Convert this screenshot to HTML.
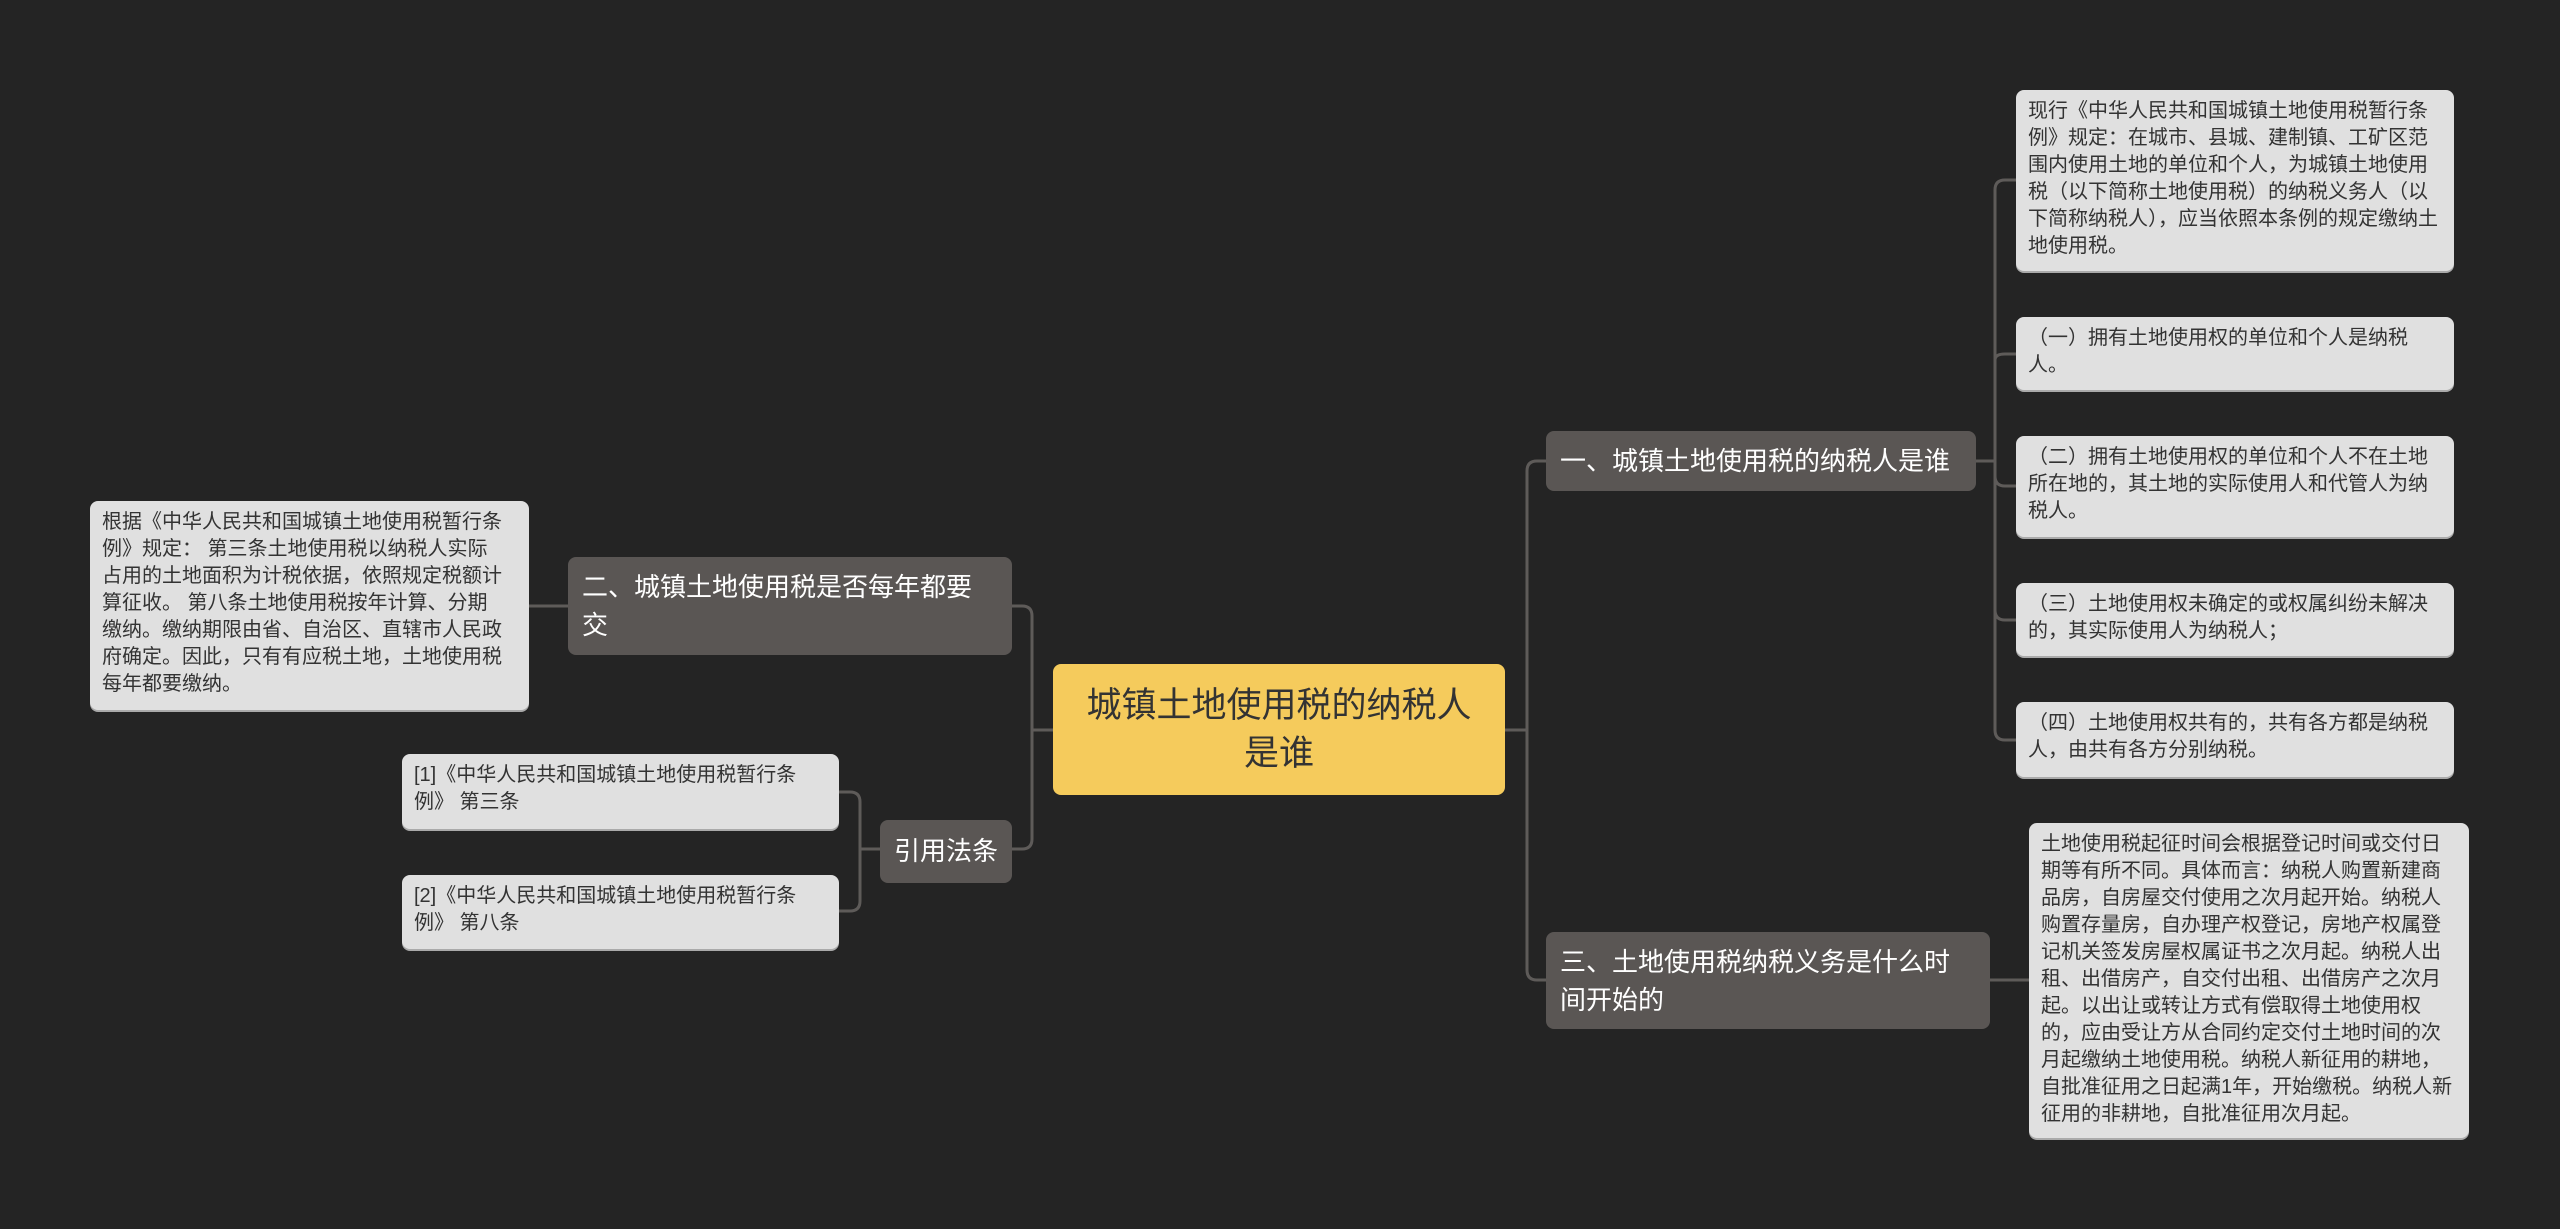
<!DOCTYPE html>
<html><head><meta charset="utf-8"><style>
html,body{margin:0;padding:0;background:#242424;}
body{width:2560px;height:1229px;position:relative;overflow:hidden;font-family:"Liberation Sans","Noto Sans CJK SC",sans-serif;}
.n{position:absolute;box-sizing:border-box;border-radius:8px;}
.leaf{background:#e0e0e0;color:#333;font-size:20px;line-height:27px;padding:8px 12px;box-shadow:0 2px 0 #aaa;}
.br{background:#5a5654;color:#fff;font-size:26px;line-height:38px;padding:8px 14px;}
.root{background:#f5cb5c;color:#333;font-size:35px;line-height:48px;text-align:center;display:flex;align-items:center;justify-content:center;padding:0 26px;}
svg{position:absolute;left:0;top:0;}
</style></head><body>
<svg width="2560" height="1229" fill="none" stroke="#5e5b59" stroke-width="3">
<path d="M1505 730 H1527"/>
<path d="M1546 461 H1537 Q1527 461 1527 471 V970 Q1527 980 1537 980 H1546"/>
<path d="M1976 461 H1995"/>
<path d="M2016 180 H2005 Q1995 180 1995 190 V730 Q1995 740 2005 740 H2016"/>
<path d="M1995 360 Q1995 354 2005 354 H2016"/>
<path d="M1995 476 Q1995 486 2005 486 H2016"/>
<path d="M1995 610 Q1995 620 2005 620 H2016"/>
<path d="M1990 980 H2029"/>
<path d="M1053 730 H1032"/>
<path d="M1012 606 H1022 Q1032 606 1032 616 V839 Q1032 849 1022 849 H1012"/>
<path d="M568 606 H529"/>
<path d="M880 849 H860"/>
<path d="M839 792 H850 Q860 792 860 802 V901 Q860 911 850 911 H839"/>
</svg>
<div class="n root" style="left:1053px;top:664px;width:452px;height:131px;">城镇土地使用税的纳税人是谁</div>
<div class="n br" style="left:1546px;top:431px;width:430px;height:60px;line-height:44px;">一、城镇土地使用税的纳税人是谁</div>
<div class="n br" style="left:1546px;top:932px;width:444px;height:97px;padding-top:11px;padding-right:26px;">三、土地使用税纳税义务是什么时间开始的</div>
<div class="n br" style="left:568px;top:557px;width:444px;height:98px;padding-top:11px;padding-right:30px;">二、城镇土地使用税是否每年都要交</div>
<div class="n br" style="left:880px;top:820px;width:132px;height:63px;line-height:47px;text-align:center;padding:8px 0;">引用法条</div>
<div class="n leaf" style="left:2016px;top:90px;width:438px;height:181px;">现行《中华人民共和国城镇土地使用税暂行条例》规定：在城市、县城、建制镇、工矿区范围内使用土地的单位和个人，为城镇土地使用税（以下简称土地使用税）的纳税义务人（以下简称纳税人），应当依照本条例的规定缴纳土地使用税。</div>
<div class="n leaf" style="left:2016px;top:317px;width:438px;height:73px;">（一）拥有土地使用权的单位和个人是纳税人。</div>
<div class="n leaf" style="left:2016px;top:436px;width:438px;height:101px;">（二）拥有土地使用权的单位和个人不在土地所在地的，其土地的实际使用人和代管人为纳税人。</div>
<div class="n leaf" style="left:2016px;top:583px;width:438px;height:73px;">（三）土地使用权未确定的或权属纠纷未解决的，其实际使用人为纳税人；</div>
<div class="n leaf" style="left:2016px;top:702px;width:438px;height:75px;">（四）土地使用权共有的，共有各方都是纳税人，由共有各方分别纳税。</div>
<div class="n leaf" style="left:2029px;top:823px;width:440px;height:315px;">土地使用税起征时间会根据登记时间或交付日期等有所不同。具体而言：纳税人购置新建商品房，自房屋交付使用之次月起开始。纳税人购置存量房，自办理产权登记，房地产权属登记机关签发房屋权属证书之次月起。纳税人出租、出借房产，自交付出租、出借房产之次月起。以出让或转让方式有偿取得土地使用权的，应由受让方从合同约定交付土地时间的次月起缴纳土地使用税。纳税人新征用的耕地，自批准征用之日起满1年，开始缴税。纳税人新征用的非耕地，自批准征用次月起。</div>
<div class="n leaf" style="left:90px;top:501px;width:439px;height:209px;padding-right:22px;">根据《中华人民共和国城镇土地使用税暂行条例》规定： 第三条土地使用税以纳税人实际占用的土地面积为计税依据，依照规定税额计算征收。 第八条土地使用税按年计算、分期缴纳。缴纳期限由省、自治区、直辖市人民政府确定。因此，只有有应税土地，土地使用税每年都要缴纳。</div>
<div class="n leaf" style="left:402px;top:754px;width:437px;height:75px;">[1]《中华人民共和国城镇土地使用税暂行条例》 第三条</div>
<div class="n leaf" style="left:402px;top:875px;width:437px;height:74px;">[2]《中华人民共和国城镇土地使用税暂行条例》 第八条</div>
</body></html>
